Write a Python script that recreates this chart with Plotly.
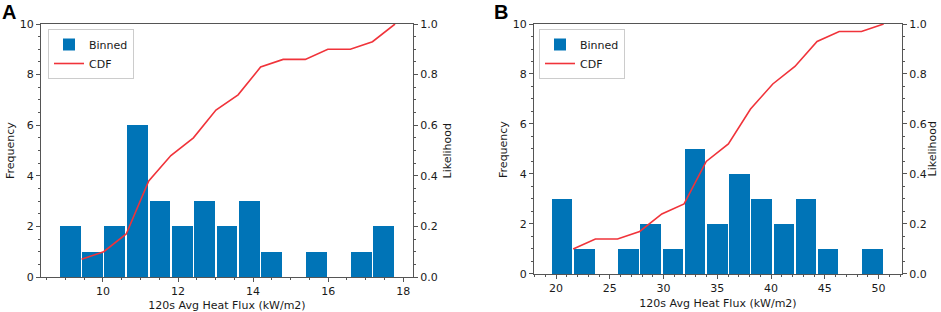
import plotly.graph_objects as go

# ---------------- data ----------------
# Panel A
a_edges = [8.83, 9.43, 10.02, 10.62, 11.22, 11.81, 12.41, 13.01, 13.60,
           14.20, 14.80, 15.39, 15.99, 16.59, 17.18, 17.78]
a_counts = [2, 1, 2, 6, 3, 2, 3, 2, 3, 1, 0, 1, 0, 1, 2]
a_cdf = [0.07, 0.10, 0.17, 0.38, 0.48, 0.55, 0.66, 0.72, 0.83, 0.86,
         0.86, 0.90, 0.90, 0.93, 1.00]

# Panel B
b_edges = [19.53, 21.59, 23.66, 25.72, 27.78, 29.84, 31.91, 33.97, 36.03,
           38.09, 40.16, 42.22, 44.28, 46.34, 48.41, 50.47]
b_counts = [3, 1, 0, 1, 2, 1, 5, 2, 4, 3, 2, 3, 1, 0, 1]
b_cdf = [0.10, 0.14, 0.14, 0.17, 0.24, 0.28, 0.45, 0.52, 0.66, 0.76,
         0.83, 0.93, 0.97, 0.97, 1.00]

panel_labels = ["A", "B"]
x_title = "120s Avg Heat Flux (kW/m2)"
y_left_title = "Frequency"
y_right_title = "Likelihood"

# ---------------- styles ----------------
BAR = "#0074b7"
LINE = "#f0333a"
AX = "#555555"
FONT = "DejaVu Sans"
TXT = "#1a1a1a"
FS = 11

def centers(e):
    return [(e[i] + e[i + 1]) / 2 for i in range(len(e) - 1)]

def widths(e, f=0.93):
    return [(e[i + 1] - e[i]) * f for i in range(len(e) - 1)]

fig = go.Figure()

fig.add_trace(go.Bar(x=centers(a_edges), y=a_counts, width=widths(a_edges),
                     marker=dict(color=BAR, line=dict(width=0)),
                     name="Binned", xaxis="x", yaxis="y", legend="legend"))
fig.add_trace(go.Scatter(x=a_edges[1:], y=a_cdf, mode="lines",
                         line=dict(color=LINE, width=1.6),
                         name="CDF", xaxis="x", yaxis="y2", legend="legend"))
fig.add_trace(go.Bar(x=centers(b_edges), y=b_counts, width=widths(b_edges),
                     marker=dict(color=BAR, line=dict(width=0)),
                     name="Binned", xaxis="x2", yaxis="y3", legend="legend2"))
fig.add_trace(go.Scatter(x=b_edges[1:], y=b_cdf, mode="lines",
                         line=dict(color=LINE, width=1.6),
                         name="CDF", xaxis="x2", yaxis="y4", legend="legend2"))

tickfont = dict(family=FONT, size=FS, color=TXT)
titlefont = dict(family=FONT, size=FS, color=TXT)

def xax(domain, anchor, rng, tick0, dtick, minor_dtick):
    return dict(domain=domain, anchor=anchor, range=rng, tick0=tick0, dtick=dtick,
                showline=True, linecolor=AX, linewidth=1.2, mirror=True,
                ticks="outside", ticklen=4, tickwidth=1, tickcolor=AX,
                minor=dict(ticks="outside", ticklen=2, tickwidth=0.8, tickcolor=AX,
                           dtick=minor_dtick, tick0=tick0),
                showgrid=False, zeroline=False, tickfont=tickfont,
                title=dict(text=x_title, font=titlefont, standoff=5))

def yax(domain, anchor, rng, dtick, minor_dtick, side="left",
        overlaying=None, fmt=None):
    d = dict(anchor=anchor, range=rng, tick0=0, dtick=dtick, side=side,
             showline=True, linecolor=AX, linewidth=1.2,
             ticks="outside", ticklen=4, tickwidth=1, tickcolor=AX,
             minor=dict(ticks="outside", ticklen=2, tickwidth=0.8, tickcolor=AX,
                        dtick=minor_dtick, tick0=0),
             showgrid=False, zeroline=False, tickfont=tickfont)
    if overlaying:
        d["overlaying"] = overlaying
    else:
        d["domain"] = domain
    if fmt:
        d["tickformat"] = fmt
    return d

legend_style = dict(xref="container", yref="container",
                    xanchor="left", yanchor="top",
                    bgcolor="white", bordercolor="#cccccc", borderwidth=1,
                    font=dict(family=FONT, size=FS, color=TXT),
                    tracegroupgap=0, itemwidth=30)

fig.update_layout(
    width=941, height=312,
    margin=dict(l=41, r=39, t=24, b=35, autoexpand=False),
    paper_bgcolor="white", plot_bgcolor="white",
    font=dict(family=FONT, size=FS, color=TXT),
    bargap=0,
    xaxis=xax([0, 0.4321], "y", [8.35, 18.26], 10, 2, 0.5),
    yaxis=yax([0, 1], "x", [0, 10], 2, 0.5),
    yaxis2=yax(None, "x", [0, 1], 0.2, 0.05, side="right", overlaying="y", fmt=".1f"),
    xaxis2=xax([0.5726, 1], "y3", [17.95, 52.18], 20, 5, 1),
    yaxis3=yax([0.012, 1], "x2", [0, 10], 2, 0.5),
    yaxis4=yax(None, "x2", [0, 1], 0.2, 0.05, side="right", overlaying="y3", fmt=".1f"),
    legend=dict(x=48 / 941, y=1 - 29 / 312, **legend_style),
    legend2=dict(x=539 / 941, y=1 - 29 / 312, **legend_style),
    showlegend=True,
)

# panel letters
for txt, xp in zip(panel_labels, [-0.0366, 0.5348]):
    fig.add_annotation(text="<b>" + txt + "</b>", xref="paper", yref="paper",
                       x=xp, y=1.047, xanchor="center", yanchor="middle",
                       showarrow=False,
                       font=dict(family="Liberation Sans", size=20, color="black"))

# y-axis titles (rotated, reading bottom-to-top)
for txt, xp, yp, xa in [(y_left_title, -0.0354, 0.5, "center"),
                        (y_right_title, 0.4727, 0.5, "center"),
                        (y_left_title, 0.5377, 0.506, "center"),
                        (y_right_title, 1.0453, 0.506, "right")]:
    fig.add_annotation(text=txt, xref="paper", yref="paper", x=xp, y=yp,
                       xanchor=xa, yanchor="middle", textangle=-90,
                       showarrow=False, font=titlefont)

fig.write_html("out.html",
               config={"displayModeBar": False},
               post_script="document.body.style.margin='0px';")
